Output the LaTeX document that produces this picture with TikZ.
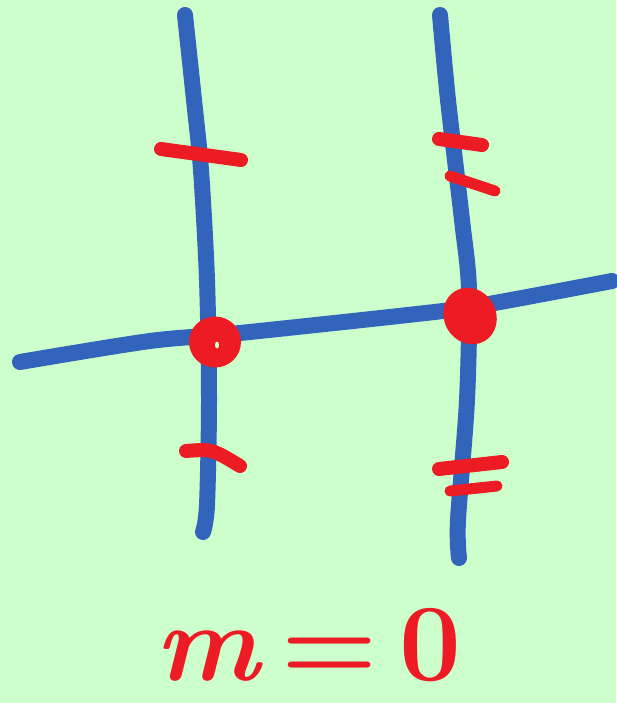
\documentclass[tikz,border=0pt]{standalone}
\usepackage{tikz}

\definecolor{paper}{RGB}{204,255,204}
\definecolor{penblue}{RGB}{50,100,188}
\definecolor{penred}{RGB}{237,28,36}

\begin{document}
\begin{tikzpicture}[x=1pt, y=-1pt,
    blueline/.style={penblue, line width=16pt, line cap=round, line join=round},
    redmark/.style={penred, line width=14pt, line cap=round},
    thinmark/.style={penred, line width=11pt, line cap=round},
    bigtext/.style={penred, inner sep=0pt, font=\fontsize{110}{110}\selectfont\bfseries}]

    % 1. Light green paper
    \fill[paper] (0,0) rectangle (616,703);
    \useasboundingbox (0,0) rectangle (616,703);

    % 2. The two vertical lines
    \draw[blueline] plot[smooth] coordinates
        {(185,15) (194,100) (201,170) (207,280) (209,400) (207,505) (203,532)};
    \draw[blueline] plot[smooth] coordinates
        {(440,15) (448,100) (462,220) (469,290) (467,400) (458,520) (459,558)};

    % 3. The crossing line
    \draw[blueline] plot[smooth] coordinates
        {(20,362) (150,341) (240,333) (443,311) (500,302) (612,281)};

    % 4. Red ticks on the left line
    \draw[redmark] (161,149) -- (241,160);
    \draw[redmark] (186,451) .. controls (212,449) .. (240,466);

    % 5. Red ticks on the right line
    \draw[redmark] (439,139) -- (482,145);
    \draw[thinmark] (450,176) -- (495,191);
    \draw[redmark] (439,469) -- (502,462);
    \draw[thinmark] (450,491) -- (497,486);

    % 6. The two crossing points
    \fill[penred] (215,342) circle [x radius=26, y radius=25.5];
    \fill[paper] (217,345) circle [x radius=2, y radius=3.5];
    \fill[penred, rotate around={30:(470,316)}] (470,316) circle [x radius=26, y radius=29];

    % 7. Caption
    \node[bigtext, anchor=base west] (caption) at (155,680)
        {{\itshape m}\hspace{22pt}=\hspace{22pt}0};
\end{tikzpicture}
\end{document}
